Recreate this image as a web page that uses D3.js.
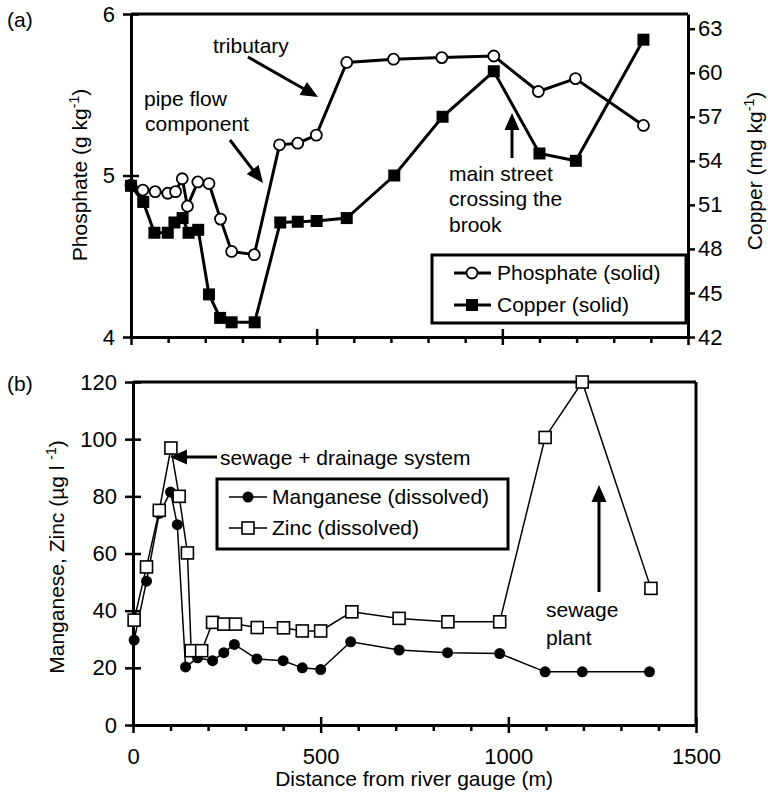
<!DOCTYPE html>
<html>
<head>
<meta charset="utf-8">
<script src="https://cdn.jsdelivr.net/npm/d3@7"></script>
<style>
body { margin: 0; background: #fff; }
text { font-family: "Liberation Sans", Arial, sans-serif; fill: #000; }
</style>
</head>
<body>
<div id="chart"></div>
<script>
// ---- panel (a) data: distance (m) and values
var phosDist = [0, 32, 65, 99, 120, 138, 152, 180, 210, 241, 271, 332, 400, 449, 499, 581, 707, 837, 977, 1097, 1197, 1380]
var phosVal  = [4.94, 4.91, 4.90, 4.89, 4.90, 4.98, 4.81, 4.96, 4.95, 4.73, 4.53, 4.51, 5.19, 5.20, 5.25, 5.70, 5.72, 5.73, 5.74, 5.52, 5.60, 5.31]
var cuDist   = [0, 33, 63, 99, 117, 139, 155, 181, 210, 240, 271, 333, 402, 449, 500, 581, 709, 839, 977, 1100, 1198, 1380]
var cuVal    = [52.3, 51.2, 49.1, 49.1, 49.8, 50.1, 49.1, 49.3, 44.9, 43.3, 43.0, 43.0, 49.8, 49.85, 49.9, 50.1, 53.0, 57.0, 60.1, 54.5, 54.0, 62.25]

// ---- panel (b) data
var mnDist = [3, 36, 70, 100, 118, 140, 172, 212, 242, 270, 330, 400, 451, 500, 580, 709, 838, 977, 1098, 1197, 1376]
var mnVal  = [29.7, 50.3, 74, 81.5, 70.1, 20.3, 23.5, 22.5, 25.3, 28.2, 23.1, 22.5, 20.0, 19.4, 29.1, 26.2, 25.3, 25.0, 18.6, 18.6, 18.6]
var znDist = [3, 36, 70, 101, 123, 145, 155, 183, 212, 242, 273, 331, 401, 451, 500, 583, 709, 839, 977, 1098, 1197, 1380]
var znVal  = [36.7, 55.3, 75.1, 96.9, 80.0, 60.2, 26, 26, 35.9, 35.3, 35.3, 34.1, 34.0, 32.9, 32.9, 39.6, 37.3, 36.1, 36.1, 100.6, 120, 47.8]

// ---- ticks
var phosTicks = [4, 5, 6]
var cuTicks = [42, 45, 48, 51, 54, 57, 60, 63]
var mzTicks = [0, 20, 40, 60, 80, 100, 120]
var distTicks = d3.range(0, 1501, 100)

var font = '"Liberation Sans", Arial, sans-serif'
var fs = 21
var tickFs = 22

var svg = d3.select("#chart")
    .append("svg")
        .attr("width", 768)
        .attr("height", 793)

// scales
var xTop = d3.scaleLinear().domain([0, 1500]).range([131, 688])
var yPhos = d3.scaleLinear().domain([4, 6]).range([337, 14])
var yCu = d3.scaleLinear().domain([42, 64]).range([337, 14])

var xBot = d3.scaleLinear().domain([0, 1500]).range([133, 696])
var yMZ = d3.scaleLinear().domain([0, 120]).range([725, 382])

function styleAxis(g){
    g.attr("font-size", tickFs).attr("font-family", font)
    g.select(".domain").attr("stroke-width", 3)
    g.selectAll(".tick line").attr("stroke-width", 2.5)
}

// ========== panel (a) ==========
var panelA = svg.append("g")

// frame top line
panelA.append("line")
    .attr("x1", xTop(0)).attr("x2", xTop(1500))
    .attr("y1", yPhos(6)).attr("y2", yPhos(6))
    .attr("stroke", "#000").attr("stroke-width", 3)

var topX = panelA.append("g")
    .attr("transform", "translate(0," + yPhos(4) + ")")
    .call(d3.axisBottom(xTop).tickValues(distTicks).tickFormat("").tickSize(6).tickSizeOuter(0))
styleAxis(topX)
topX.selectAll(".tick line").attr("y1", d => d % 500 == 0 ? -8 : 0).attr("y2", d => d % 500 == 0 ? 8 : 6)

var topY = panelA.append("g")
    .attr("transform", "translate(" + xTop(0) + ",0)")
    .call(d3.axisLeft(yPhos).tickValues(phosTicks).tickFormat(d3.format("d"))
        .tickSize(8).tickPadding(8).tickSizeOuter(0))
styleAxis(topY)
topY.selectAll(".tick line").attr("x1", 8)

var topY2 = panelA.append("g")
    .attr("transform", "translate(" + xTop(1500) + ",0)")
    .call(d3.axisRight(yCu).tickValues(cuTicks).tickSize(7).tickPadding(3).tickSizeOuter(0))
styleAxis(topY2)

var phosData = d3.zip(phosDist, phosVal)
var cuData = d3.zip(cuDist, cuVal)

panelA.append("path")
    .datum(phosData)
    .attr("fill", "none").attr("stroke", "#000").attr("stroke-width", 3)
    .attr("d", d3.line().x(d => xTop(d[0])).y(d => yPhos(d[1])))

panelA.selectAll(".phos")
    .data(phosData)
    .enter().append("circle")
        .attr("class", "phos")
        .attr("cx", d => xTop(d[0])).attr("cy", d => yPhos(d[1]))
        .attr("r", 5.5)
        .attr("fill", "#fff").attr("stroke", "#000").attr("stroke-width", 1.8)

panelA.append("path")
    .datum(cuData)
    .attr("fill", "none").attr("stroke", "#000").attr("stroke-width", 3)
    .attr("d", d3.line().x(d => xTop(d[0])).y(d => yCu(d[1])))

var sq = 12
panelA.selectAll(".cu")
    .data(cuData)
    .enter().append("rect")
        .attr("class", "cu")
        .attr("x", d => xTop(d[0]) - sq/2).attr("y", d => yCu(d[1]) - sq/2)
        .attr("width", sq).attr("height", sq)
        .attr("fill", "#000")

// legend (a)
var legA = panelA.append("g")
legA.append("rect")
    .attr("x", 432).attr("y", 255).attr("width", 254).attr("height", 68)
    .attr("fill", "#fff").attr("stroke", "#000").attr("stroke-width", 3)
legA.append("line").attr("x1", 454).attr("x2", 491).attr("y1", 273).attr("y2", 273)
    .attr("stroke", "#000").attr("stroke-width", 3)
legA.append("circle").attr("cx", 472).attr("cy", 273).attr("r", 5.5)
    .attr("fill", "#fff").attr("stroke", "#000").attr("stroke-width", 1.8)
legA.append("text").attr("x", 497).attr("y", 273).attr("dy", "0.35em")
    .attr("font-size", fs).text("Phosphate (solid)")
legA.append("line").attr("x1", 454).attr("x2", 491).attr("y1", 305).attr("y2", 305)
    .attr("stroke", "#000").attr("stroke-width", 3)
legA.append("rect").attr("x", 472 - sq/2).attr("y", 305 - sq/2).attr("width", sq).attr("height", sq)
    .attr("fill", "#000")
legA.append("text").attr("x", 497).attr("y", 305).attr("dy", "0.35em")
    .attr("font-size", fs).text("Copper (solid)")

// ========== panel (b) ==========
var panelB = svg.append("g")

panelB.append("line")
    .attr("x1", xBot(0)).attr("x2", xBot(1500))
    .attr("y1", yMZ(120)).attr("y2", yMZ(120))
    .attr("stroke", "#000").attr("stroke-width", 3)
panelB.append("line")
    .attr("x1", xBot(1500)).attr("x2", xBot(1500))
    .attr("y1", yMZ(120)).attr("y2", yMZ(0))
    .attr("stroke", "#000").attr("stroke-width", 3)

var botX = panelB.append("g")
    .attr("transform", "translate(0," + yMZ(0) + ")")
    .call(d3.axisBottom(xBot).tickValues(distTicks)
        .tickFormat(d => d % 500 == 0 ? d : "")
        .tickSize(6).tickPadding(17).tickSizeOuter(0))
styleAxis(botX)
botX.selectAll(".tick line").attr("y1", d => d % 500 == 0 ? -8 : 0).attr("y2", d => d % 500 == 0 ? 8 : 6)

var botY = panelB.append("g")
    .attr("transform", "translate(" + xBot(0) + ",0)")
    .call(d3.axisLeft(yMZ).tickValues(mzTicks).tickSize(8).tickPadding(8).tickSizeOuter(0))
styleAxis(botY)
botY.selectAll(".tick line").attr("x1", 8)

var mnData = d3.zip(mnDist, mnVal)
var znData = d3.zip(znDist, znVal)

panelB.append("path")
    .datum(mnData)
    .attr("fill", "none").attr("stroke", "#000").attr("stroke-width", 1.5)
    .attr("d", d3.line().x(d => xBot(d[0])).y(d => yMZ(d[1])))

panelB.selectAll(".mn")
    .data(mnData)
    .enter().append("circle")
        .attr("class", "mn")
        .attr("cx", d => xBot(d[0])).attr("cy", d => yMZ(d[1]))
        .attr("r", 5.5)
        .attr("fill", "#000")

panelB.append("path")
    .datum(znData)
    .attr("fill", "none").attr("stroke", "#000").attr("stroke-width", 1.5)
    .attr("d", d3.line().x(d => xBot(d[0])).y(d => yMZ(d[1])))

panelB.selectAll(".zn")
    .data(znData)
    .enter().append("rect")
        .attr("class", "zn")
        .attr("x", d => xBot(d[0]) - 6).attr("y", d => yMZ(d[1]) - 6)
        .attr("width", 12).attr("height", 12)
        .attr("fill", "#fff").attr("stroke", "#000").attr("stroke-width", 1.6)

// legend (b)
var legB = panelB.append("g")
legB.append("rect")
    .attr("x", 217).attr("y", 479).attr("width", 291).attr("height", 70)
    .attr("fill", "#fff").attr("stroke", "#000").attr("stroke-width", 3)
legB.append("line").attr("x1", 229).attr("x2", 267).attr("y1", 497).attr("y2", 497)
    .attr("stroke", "#000").attr("stroke-width", 1.5)
legB.append("circle").attr("cx", 248).attr("cy", 497).attr("r", 5.5).attr("fill", "#000")
legB.append("text").attr("x", 272).attr("y", 497).attr("dy", "0.35em")
    .attr("font-size", fs).text("Manganese (dissolved)")
legB.append("line").attr("x1", 229).attr("x2", 267).attr("y1", 528).attr("y2", 528)
    .attr("stroke", "#000").attr("stroke-width", 1.5)
legB.append("rect").attr("x", 242).attr("y", 522).attr("width", 12).attr("height", 12)
    .attr("fill", "#fff").attr("stroke", "#000").attr("stroke-width", 1.6)
legB.append("text").attr("x", 272).attr("y", 528).attr("dy", "0.35em")
    .attr("font-size", fs).text("Zinc (dissolved)")

// ========== labels & annotations ==========
function label(x, y, s, anchor){
    svg.append("text").attr("x", x).attr("y", y)
        .attr("font-size", fs).attr("text-anchor", anchor || "start").text(s)
}

function arrow(x1, y1, x2, y2, w, hl, hw){
    var dx = x2 - x1, dy = y2 - y1
    var len = Math.sqrt(dx*dx + dy*dy)
    var ux = dx/len, uy = dy/len
    var bx = x2 - ux*hl, by = y2 - uy*hl
    svg.append("line")
        .attr("x1", x1).attr("y1", y1).attr("x2", bx + ux).attr("y2", by + uy)
        .attr("stroke", "#000").attr("stroke-width", w)
    svg.append("polygon")
        .attr("points", [[x2, y2], [bx - uy*hw/2, by + ux*hw/2], [bx + uy*hw/2, by - ux*hw/2]].join(" "))
        .attr("fill", "#000")
}

label(7, 27, "(a)")
label(7, 391, "(b)")

label(213, 53, "tributary")
arrow(248, 57, 318, 97, 3, 17, 15)

label(144, 106, "pipe flow")
label(145, 131, "component")
arrow(230, 140, 263, 183, 3, 17, 15)

label(449, 181, "main street")
label(449, 206, "crossing the")
label(449, 232, "brook")
arrow(512, 158, 512, 113, 3, 17, 15)

label(220, 465, "sewage + drainage system")
arrow(217, 457, 170, 457, 3, 17, 15)

label(546, 617, "sewage")
label(546, 645, "plant")
arrow(599, 592, 599, 485, 3, 17, 15)

// axis titles
var t1 = svg.append("text")
    .attr("transform", "translate(87,175) rotate(-90)")
    .attr("text-anchor", "middle").attr("font-size", fs)
t1.append("tspan").text("Phosphate (g kg")
t1.append("tspan").attr("dy", -8).attr("font-size", 14).text("-1")
t1.append("tspan").attr("dy", 8).text(")")

var t2 = svg.append("text")
    .attr("transform", "translate(762,171) rotate(-90)")
    .attr("text-anchor", "middle").attr("font-size", fs)
t2.append("tspan").text("Copper (mg kg")
t2.append("tspan").attr("dy", -8).attr("font-size", 14).text("-1")
t2.append("tspan").attr("dy", 8).text(")")

var t3 = svg.append("text")
    .attr("transform", "translate(64,557) rotate(-90)")
    .attr("text-anchor", "middle").attr("font-size", fs)
t3.append("tspan").text("Manganese, Zinc (µg l ")
t3.append("tspan").attr("dy", -8).attr("font-size", 14).text("-1")
t3.append("tspan").attr("dy", 8).text(")")

label(414, 786, "Distance from river gauge (m)", "middle")
</script>
</body>
</html>
